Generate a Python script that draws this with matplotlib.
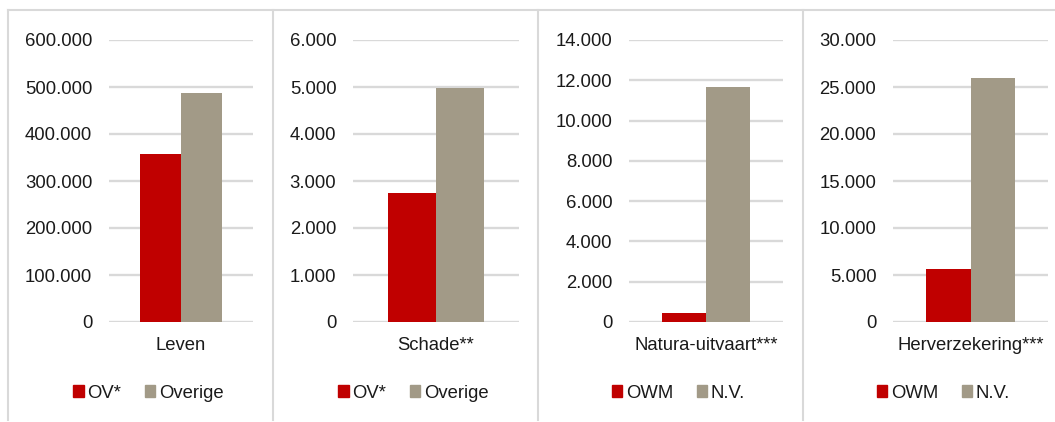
import matplotlib
matplotlib.use('Agg')
import matplotlib.pyplot as plt
from matplotlib.lines import Line2D
from matplotlib.patches import Patch
from matplotlib.ticker import FuncFormatter

plt.rcParams['font.family'] = ['Liberation Sans', 'DejaVu Sans']

# Data per panel
categories = ['Leven', 'Schade**', 'Natura-uitvaart***', 'Herverzekering***']
series_a_names = ['OV*', 'OV*', 'OWM', 'OWM']
series_b_names = ['Overige', 'Overige', 'N.V.', 'N.V.']
series_a = [357000, 2750, 430, 5670]
series_b = [487000, 4980, 11650, 25950]
y_max = [600000, 6000, 14000, 30000]
y_step = [100000, 1000, 2000, 5000]

RED = '#C00000'
GREY = '#A29A87'
GRID = '#D9D9D9'
TEXT = '#1a1a1a'

W, H = 1055, 422
fig = plt.figure(figsize=(W / 100, H / 100), dpi=100)

# plot area pixel extents (left, right) and panel extents
axes_px = [(109, 253), (353, 519), (629, 783), (893, 1048)]
panel_px = [(8, 273), (273, 538), (538, 803), (803, 1068)]
top_px, bottom_px = 40, 322


def dutch(v, pos):
    return f'{int(round(v)):,}'.replace(',', '.')


bw = 0.287
for i, cat in enumerate(categories):
    l, r = axes_px[i]
    ax = fig.add_axes([l / W, (H - bottom_px) / H, (r - l) / W, (bottom_px - top_px) / H])
    ax.bar(-bw / 2, series_a[i], width=bw, color=RED, zorder=3)
    ax.bar(bw / 2, series_b[i], width=bw, color=GREY, zorder=3)
    ax.set_xlim(-0.5, 0.5)
    ax.set_ylim(0, y_max[i])
    ax.set_yticks(range(0, y_max[i] + 1, y_step[i]))
    ax.yaxis.set_major_formatter(FuncFormatter(dutch))
    ax.set_xticks([0])
    ax.set_xticklabels([cat])
    ax.tick_params(axis='both', length=0, labelsize=13.3, colors=TEXT)
    ax.tick_params(axis='y', pad=12)
    ax.tick_params(axis='x', pad=11)
    for s in ax.spines.values():
        s.set_visible(False)
    ax.grid(axis='y', color=GRID, linewidth=1.7, zorder=0)
    ax.set_axisbelow(True)
    ax.patch.set_alpha(0)

    pl, pr = panel_px[i]
    cx = (pl + pr) / 2 + 8
    handles = [Patch(color=RED), Patch(color=GREY)]
    fig.legend(handles, [series_a_names[i], series_b_names[i]], loc='center',
               bbox_to_anchor=(cx / W, 1 - 393 / H), ncol=2, frameon=False,
               fontsize=13.3, handlelength=0.55, handleheight=0.55,
               handletextpad=0.2, columnspacing=1.3, labelcolor=TEXT)

# panel borders
fig.add_artist(Line2D([8 / W, 1.0], [1 - 10 / H] * 2, color=GRID, linewidth=1.5))
for x in [8, 273, 538, 803]:
    fig.add_artist(Line2D([x / W] * 2, [1 - 10 / H, 1 - 420 / H], color=GRID, linewidth=1.5))

fig.savefig('out.png', dpi=100)
